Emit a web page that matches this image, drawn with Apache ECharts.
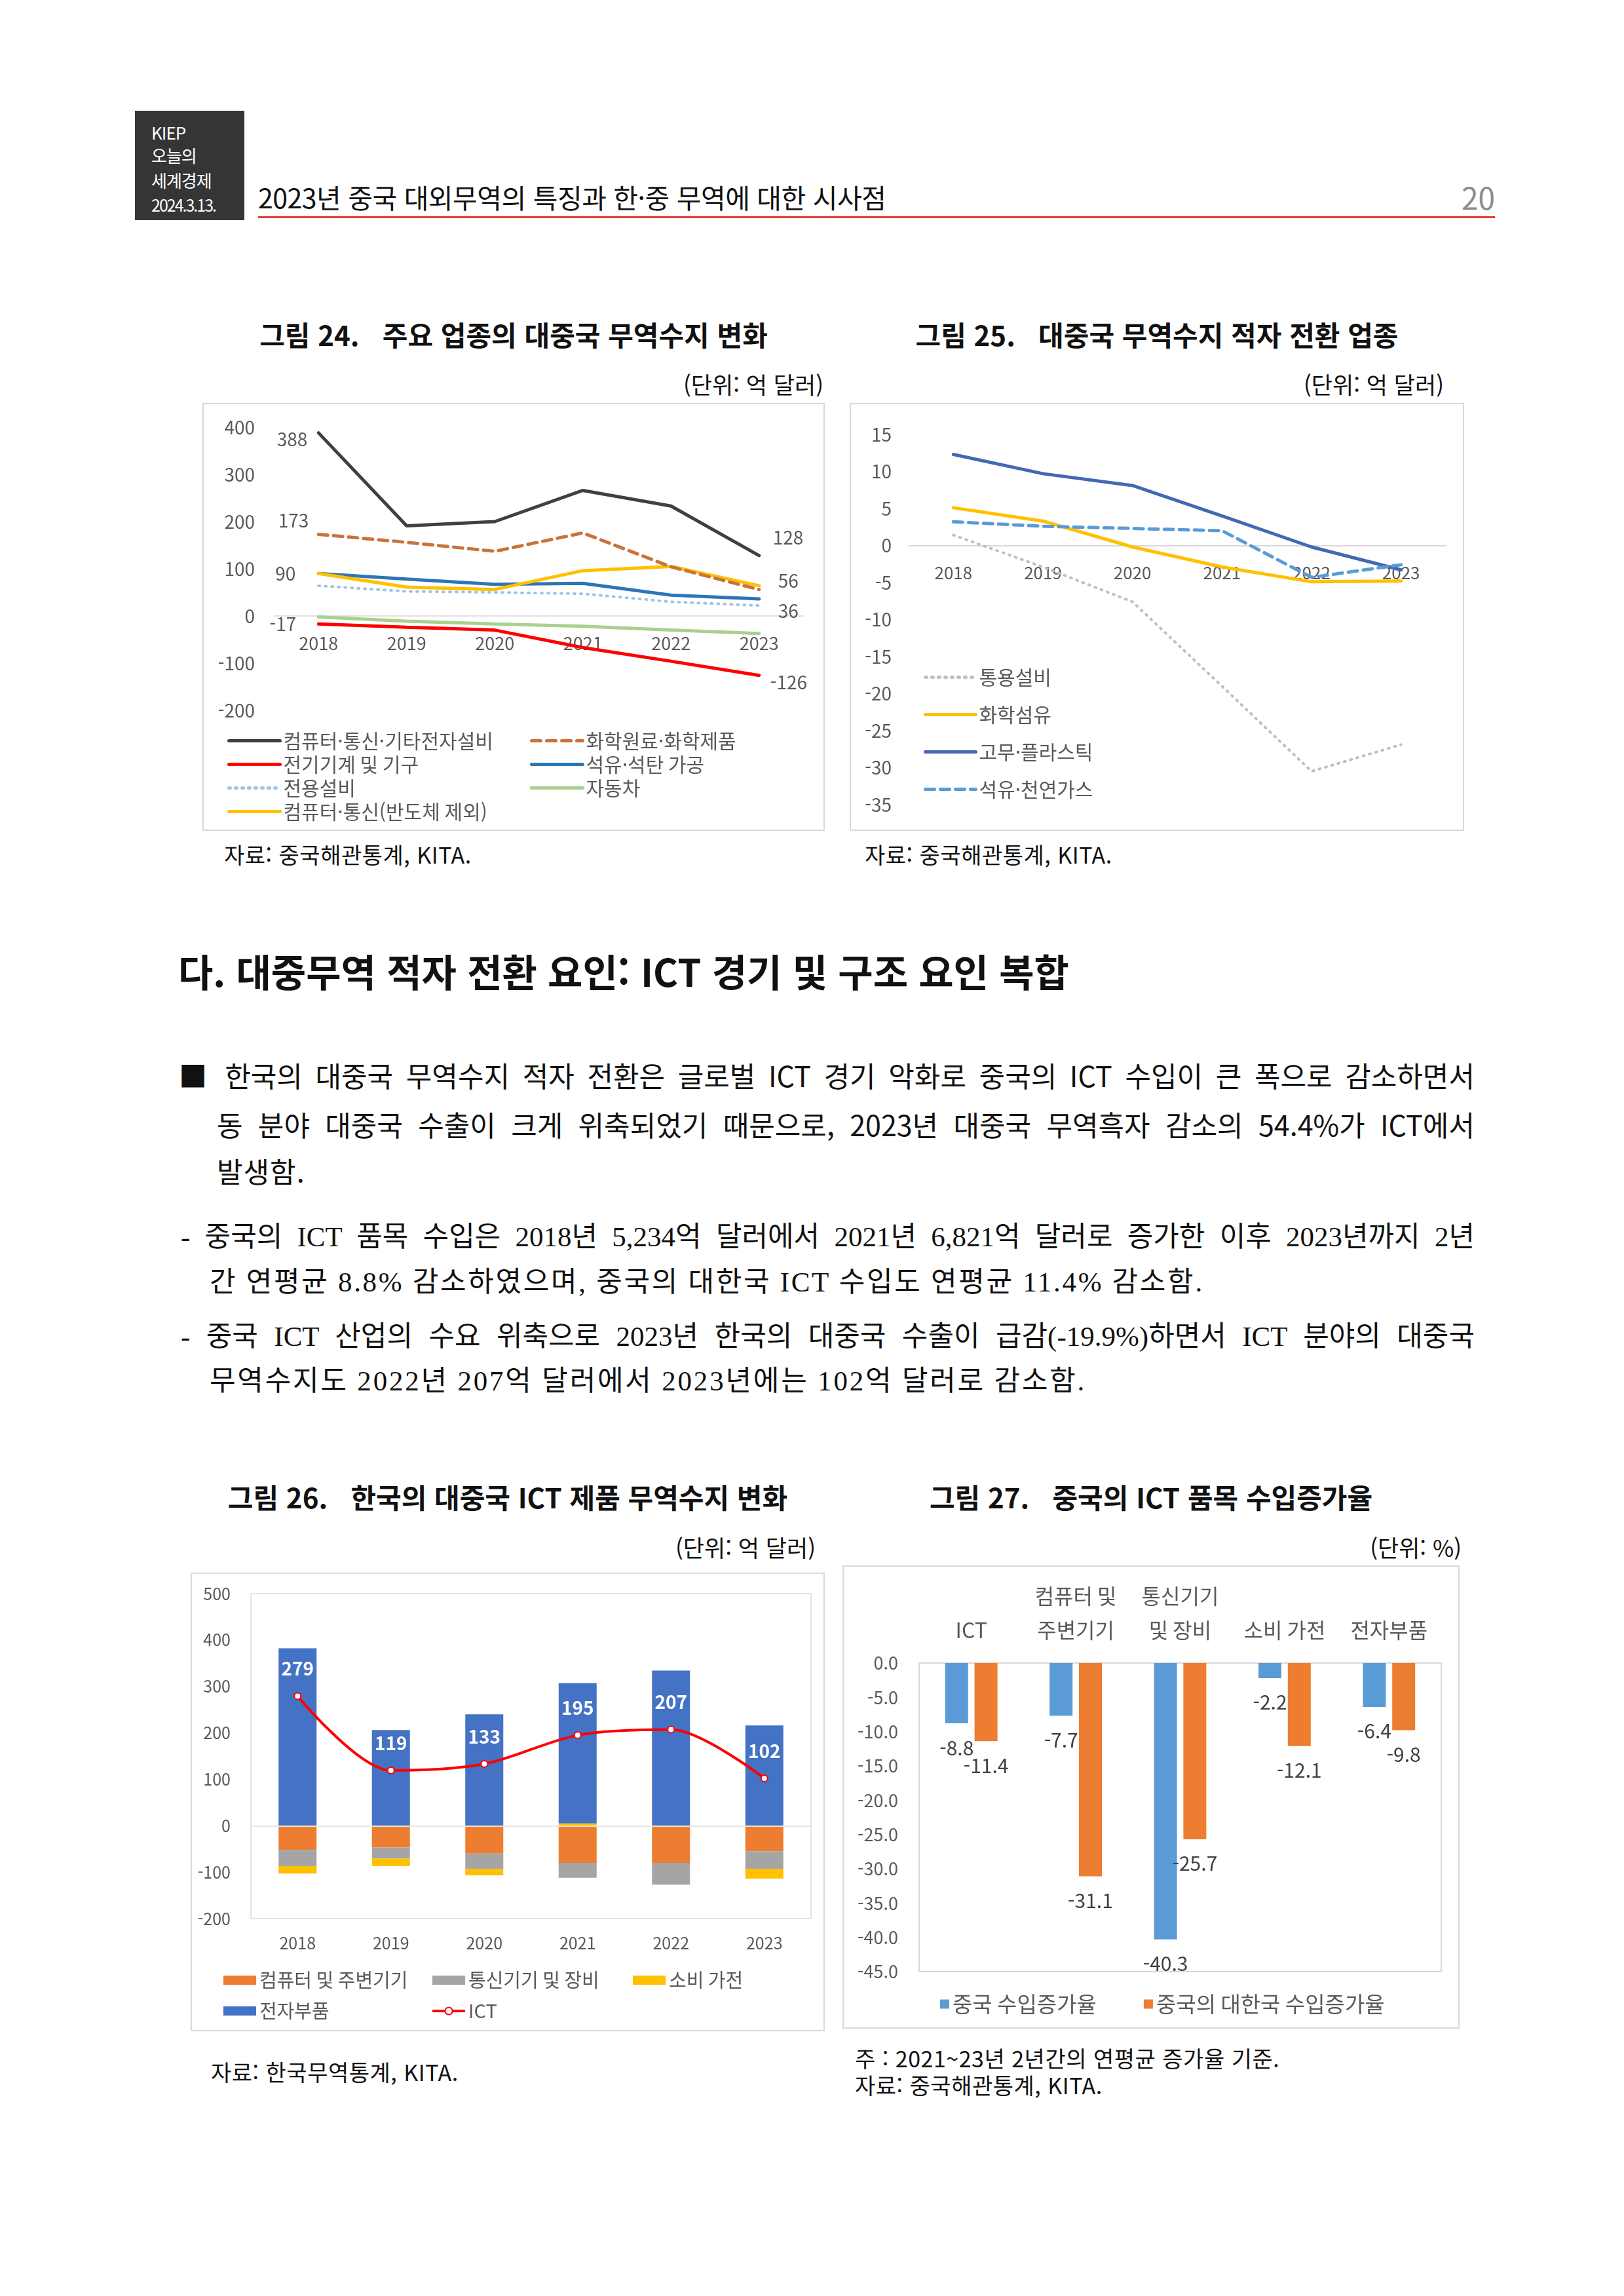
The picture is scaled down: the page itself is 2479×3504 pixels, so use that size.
<!DOCTYPE html>
<html lang="ko">
<head>
<meta charset="utf-8">
<title>KIEP 오늘의 세계경제</title>
<script src="https://cdn.jsdelivr.net/npm/echarts@6.0.0/dist/echarts.min.js"></script>
<style>
html,body{margin:0;padding:0;background:#fff;}
body{position:relative;width:2479px;height:3504px;overflow:hidden;font-family:"Noto Sans CJK KR","Noto Sans",sans-serif;color:#111;}
.t{position:absolute;white-space:nowrap;}
.j{position:absolute;white-space:normal;text-align:justify;text-align-last:justify;overflow:hidden;}
.box{position:absolute;border:2px solid #d9d9d9;box-sizing:border-box;pointer-events:none;}
.chart{position:absolute;}
.serif{font-family:"Liberation Serif","Noto Sans CJK KR",serif;}
.ttl{position:absolute;text-align:center;font-size:42px;line-height:56px;font-weight:700;white-space:pre;}
.unit{position:absolute;font-size:35px;line-height:44px;white-space:nowrap;text-align:right;}
.src{position:absolute;font-size:34px;line-height:42px;white-space:nowrap;letter-spacing:0.5px;}
</style>
</head>
<body>
<!-- header -->
<div class="t" style="left:206px;top:169px;width:167px;height:167px;background:#353535;"></div>
<div class="t" style="left:231px;top:186px;font-size:26px;line-height:32px;color:#fff;letter-spacing:-1px;">KIEP</div>
<div class="t" style="left:231px;top:221px;font-size:26px;line-height:32px;color:#fff;letter-spacing:-1px;">오늘의</div>
<div class="t" style="left:231px;top:259px;font-size:26px;line-height:32px;color:#fff;letter-spacing:-1px;">세계경제</div>
<div class="t" style="left:231px;top:296px;font-size:25px;line-height:32px;color:#fff;letter-spacing:-2px;">2024.3.13.</div>
<div class="t" style="left:394px;top:273px;font-size:41px;line-height:54px;color:#111;letter-spacing:-0.5px;">2023년 중국 대외무역의 특징과 한·중 무역에 대한 시사점</div>
<div class="t" style="right:197px;top:272px;font-size:46px;line-height:56px;color:#8c8c8c;">20</div>
<div class="t" style="left:394px;top:330px;width:1888px;height:3px;background:#e53935;"></div>

<!-- figure 24 / 25 titles -->
<div class="ttl" style="left:309px;width:950px;top:482px;">그림 24.   주요 업종의 대중국 무역수지 변화</div>
<div class="ttl" style="left:1297px;width:938px;top:482px;">그림 25.   대중국 무역수지 적자 전환 업종</div>
<div class="unit" style="right:1222px;top:564px;">(단위:  억  달러)</div>
<div class="unit" style="right:275px;top:564px;">(단위:  억  달러)</div>

<div id="c24" class="chart" style="left:309px;top:615px;width:950px;height:653px;"></div>
<div class="box" style="left:309px;top:615px;width:950px;height:653px;"></div>
<div id="c25" class="chart" style="left:1297px;top:615px;width:938px;height:653px;"></div>
<div class="box" style="left:1297px;top:615px;width:938px;height:653px;"></div>

<div class="src" style="left:342px;top:1283px;">자료:  중국해관통계,  KITA.</div>
<div class="src" style="left:1320px;top:1283px;">자료:  중국해관통계,  KITA.</div>

<!-- section text -->
<div class="t" style="left:272px;top:1443px;font-size:58px;line-height:76px;font-weight:700;">다. 대중무역 적자 전환 요인: ICT 경기 및 구조 요인 복합</div>

<div class="j" style="left:273px;top:1610px;width:1978px;height:60px;font-size:43px;line-height:60px;">■ 한국의 대중국 무역수지 적자 전환은 글로벌 ICT 경기 악화로 중국의 ICT 수입이 큰 폭으로 감소하면서</div>
<div class="j" style="left:331px;top:1685px;width:1920px;height:60px;font-size:43px;line-height:60px;">동 분야 대중국 수출이 크게 위축되었기 때문으로, 2023년 대중국 무역흑자 감소의 54.4%가 ICT에서</div>
<div class="t" style="left:331px;top:1756px;font-size:43px;line-height:60px;letter-spacing:1px;">발생함.</div>

<div class="j serif" style="left:276px;top:1858px;width:1975px;height:60px;font-size:43px;line-height:60px;">- 중국의 ICT 품목 수입은 2018년 5,234억 달러에서 2021년 6,821억 달러로 증가한 이후 2023년까지 2년</div>
<div class="t serif" style="left:320px;top:1927px;font-size:43px;line-height:60px;letter-spacing:2.7px;">간 연평균 8.8% 감소하였으며, 중국의 대한국 ICT 수입도 연평균 11.4% 감소함.</div>
<div class="j serif" style="left:276px;top:2010px;width:1975px;height:60px;font-size:43px;line-height:60px;">- 중국 ICT 산업의 수요 위축으로 2023년 한국의 대중국 수출이 급감(-19.9%)하면서 ICT 분야의 대중국</div>
<div class="t serif" style="left:320px;top:2078px;font-size:43px;line-height:60px;letter-spacing:2.8px;">무역수지도 2022년 207억 달러에서 2023년에는 102억 달러로 감소함.</div>

<!-- figure 26 / 27 titles -->
<div class="ttl" style="left:291px;width:968px;top:2256px;">그림 26.   한국의 대중국 ICT 제품 무역수지 변화</div>
<div class="ttl" style="left:1286px;width:942px;top:2256px;">그림 27.   중국의 ICT 품목 수입증가율</div>
<div class="unit" style="right:1234px;top:2339px;">(단위:  억  달러)</div>
<div class="unit" style="right:248px;top:2339px;">(단위:  %)</div>

<div id="c26" class="chart" style="left:291px;top:2400px;width:968px;height:700px;"></div>
<div class="box" style="left:291px;top:2400px;width:968px;height:700px;"></div>
<div id="c27" class="chart" style="left:1286px;top:2389px;width:942px;height:707px;"></div>
<div class="box" style="left:1286px;top:2389px;width:942px;height:707px;"></div>

<div class="src" style="left:322px;top:3141px;">자료:  한국무역통계,  KITA.</div>
<div class="src" style="left:1305px;top:3120px;">주 :  2021~23년  2년간의  연평균  증가율  기준.</div>
<div class="src" style="left:1305px;top:3161px;">자료:  중국해관통계,  KITA.</div>

<script>
// ---------- data ----------
const years = ['2018', '2019', '2020', '2021', '2022', '2023'];

// Figure 24 (억 달러)
const f24Names = ['컴퓨터·통신·기타전자설비', '화학원료·화학제품', '전기기계 및 기구', '석유·석탄 가공', '전용설비', '자동차', '컴퓨터·통신(반도체 제외)'];
const f24ElecEquip = [388, 191, 200, 266, 233, 128];
const f24Chem = [173, 156, 137, 176, 104, 56];
const f24ElecMach = [-17, -24, -30, -67, -96, -126];
const f24Petro = [90, 78, 67, 69, 44, 36];
const f24Special = [64, 52, 50, 47, 30, 22];
const f24Auto = [-2, -11, -17, -22, -30, -37];
const f24CompComm = [90, 61, 56, 96, 105, 64];
const f24Range = [-200, 400];

// Figure 25 (억 달러)
const f25Names = ['통용설비', '화학섬유', '고무·플라스틱', '석유·천연가스'];
const f25General = [1.4, -2.9, -7.6, -19.0, -30.5, -26.9];
const f25Fiber = [5.1, 3.3, -0.2, -2.9, -4.9, -4.8];
const f25Rubber = [12.3, 9.7, 8.1, 4.0, -0.2, -3.3];
const f25Oil = [3.2, 2.6, 2.3, 2.0, -4.3, -2.6];
const f25Range = [-35, 15];

// Figure 26 (억 달러)
const f26Names = ['컴퓨터 및 주변기기', '통신기기 및 장비', '소비 가전', '전자부품', 'ICT'];
const f26Computer = [-52, -47, -60, -80, -80, -55];
const f26Comm = [-35, -24, -33, -32, -47, -38];
const f26Consumer = [-16, -16, -14, 5, 0, -21];
const f26Parts = [382, 206, 240, 302, 334, 216];
const f26ICT = [279, 119, 133, 195, 207, 102];

// Figure 27 (%)
const f27Cats = ['ICT', '컴퓨터 및\n주변기기', '통신기기\n및 장비', '소비 가전', '전자부품'];
const f27Names = ['중국 수입증가율', '중국의 대한국 수입증가율'];
const f27China = [-8.8, -7.7, -40.3, -2.2, -6.4];
const f27FromKorea = [-11.4, -31.1, -25.7, -12.1, -9.8];

// ---------- helpers ----------
const FONT = '"Noto Sans CJK KR", "Noto Sans", sans-serif';
const GRAY = '#595959';
const HIDE_SYMBOL = { color: 'rgba(0,0,0,0)', borderColor: 'rgba(0,0,0,0)', borderWidth: 0 };

function withLabels(vals, cfg) {
  return vals.map(function (v, i) {
    if (!cfg[i]) return v;
    return {
      value: v,
      symbol: 'circle',
      symbolSize: 2,
      label: Object.assign({ show: true, color: GRAY, fontSize: 28, formatter: '{c}' }, cfg[i])
    };
  });
}
function lineSeries(name, data, color, width, type) {
  return {
    name: name, type: 'line', data: data, symbol: 'none', smooth: false,
    lineStyle: { color: color, width: width, type: type || 'solid', cap: 'round' },
    itemStyle: { color: color }, emphasis: { disabled: true }, z: 3
  };
}
// offset (px) that moves a bottom category axis up onto the value 0
function zeroOffset(gridHeight, range) {
  return -gridHeight * (0 - range[0]) / (range[1] - range[0]);
}
const gridBase = { containLabel: false, outerBoundsMode: 'none' };

// ---------- Figure 24 ----------
const g24 = { left: 110, right: 33, top: 37, bottom: 184 };
const h24 = 653 - g24.top - g24.bottom;
const leg24 = { orient: 'vertical', top: 500, padding: 0, itemWidth: 78, itemHeight: 14, itemGap: 5,
  selectedMode: false, itemStyle: HIDE_SYMBOL, lineStyle: { width: 5 },
  textStyle: { color: GRAY, fontSize: 30, lineHeight: 31 } };
const c24 = echarts.init(document.getElementById('c24'));
c24.setOption({
  animation: false,
  textStyle: { fontFamily: FONT },
  grid: Object.assign({}, g24, gridBase),
  xAxis: {
    type: 'category', data: years, boundaryGap: true, offset: zeroOffset(h24, f24Range),
    axisLine: { show: true, onZero: false, lineStyle: { color: '#e0e0e0', width: 2 } },
    axisTick: { show: false },
    axisLabel: { color: GRAY, fontSize: 27, margin: 28, interval: 0 }
  },
  yAxis: {
    type: 'value', min: f24Range[0], max: f24Range[1], interval: 100,
    axisLine: { show: false }, axisTick: { show: false }, splitLine: { show: false },
    axisLabel: { color: GRAY, fontSize: 28, margin: 30 }
  },
  legend: [
    Object.assign({ data: [f24Names[0], f24Names[2], f24Names[4], f24Names[6]], left: 38 }, leg24),
    Object.assign({ data: [f24Names[1], f24Names[3], f24Names[5]], left: 500 }, leg24)
  ],
  series: [
    lineSeries(f24Names[4], f24Special, '#9dc3e6', 4, [2, 8]),
    lineSeries(f24Names[5], f24Auto, '#a9d18e', 5),
    lineSeries(f24Names[3], withLabels(f24Petro, { 5: { position: 'right', distance: 28, offset: [0, 18] } }), '#2e75b6', 5),
    lineSeries(f24Names[6], withLabels(f24CompComm, { 0: { position: 'left', distance: 34 } }), '#ffc000', 5),
    lineSeries(f24Names[1], withLabels(f24Chem, { 0: { position: 'left', distance: 14, offset: [0, -21] }, 5: { position: 'right', distance: 28, offset: [0, -13] } }), '#c9733a', 5, [14, 9]),
    lineSeries(f24Names[2], withLabels(f24ElecMach, { 0: { position: 'left', distance: 33 }, 5: { position: 'right', distance: 16, offset: [0, 11] } }), '#ff0000', 5),
    lineSeries(f24Names[0], withLabels(f24ElecEquip, { 0: { position: 'left', distance: 16, offset: [0, 10] }, 5: { position: 'right', distance: 20, offset: [0, -27] } }), '#404040', 5)
  ]
});

// ---------- Figure 25 ----------
const g25 = { left: 90, right: 28, top: 48, bottom: 40 };
const h25 = 653 - g25.top - g25.bottom;
const c25 = echarts.init(document.getElementById('c25'));
c25.setOption({
  animation: false,
  textStyle: { fontFamily: FONT },
  grid: Object.assign({}, g25, gridBase),
  xAxis: {
    type: 'category', data: years, boundaryGap: true, offset: zeroOffset(h25, f25Range),
    axisLine: { show: true, onZero: false, lineStyle: { color: '#d9d9d9', width: 2 } },
    axisTick: { show: false },
    axisLabel: { color: GRAY, fontSize: 26, margin: 29, interval: 0 }
  },
  yAxis: {
    type: 'value', min: f25Range[0], max: f25Range[1], interval: 5,
    axisLine: { show: false }, axisTick: { show: false }, splitLine: { show: false },
    axisLabel: { color: GRAY, fontSize: 28, margin: 26 }
  },
  legend: {
    data: f25Names, orient: 'vertical', left: 113, top: 403, padding: 0,
    itemWidth: 77, itemHeight: 14, itemGap: 26, selectedMode: false, itemStyle: HIDE_SYMBOL,
    lineStyle: { width: 5 },
    textStyle: { color: GRAY, fontSize: 30, lineHeight: 31 }
  },
  series: [
    lineSeries(f25Names[0], f25General, '#bfbfbf', 4, [2, 8]),
    lineSeries(f25Names[1], f25Fiber, '#ffc000', 5),
    lineSeries(f25Names[2], f25Rubber, '#4268b3', 5),
    lineSeries(f25Names[3], f25Oil, '#5b9bd5', 5, [14, 9])
  ]
});

// ---------- Figure 26 ----------
function barSeries(name, data, color) {
  return { name: name, type: 'bar', stack: 'total', data: data, barWidth: 58,
    itemStyle: { color: color }, emphasis: { disabled: true } };
}
const c26 = echarts.init(document.getElementById('c26'));
const f26PartsSeries = barSeries(f26Names[3], f26Parts, '#4472c4');
f26PartsSeries.markLine = { silent: true, symbol: 'none', label: { show: false },
  lineStyle: { color: '#ece6d6', width: 2, type: 'solid' }, data: [{ yAxis: 0 }] };
const leg26 = { orient: 'vertical', top: 607, padding: 0, itemWidth: 50, itemHeight: 14, itemGap: 17,
  selectedMode: false, lineStyle: { width: 4 }, textStyle: { color: GRAY, fontSize: 29, lineHeight: 30 } };
c26.setOption({
  animation: false,
  textStyle: { fontFamily: FONT },
  grid: Object.assign({ left: 92, right: 21, top: 32, bottom: 172, show: true, borderColor: '#e3e3e3', borderWidth: 2 }, gridBase),
  xAxis: {
    type: 'category', data: years, boundaryGap: true,
    axisLine: { show: false, onZero: false }, axisTick: { show: false },
    axisLabel: { color: GRAY, fontSize: 25, margin: 25, interval: 0 }
  },
  yAxis: {
    type: 'value', min: -200, max: 500, interval: 100,
    axisLine: { show: false }, axisTick: { show: false }, splitLine: { show: false },
    axisLabel: { color: GRAY, fontSize: 25, margin: 31 }
  },
  legend: [
    Object.assign({ data: [{ name: f26Names[0], icon: 'rect' }, { name: f26Names[3], icon: 'rect' }], left: 50 }, leg26),
    Object.assign({ data: [{ name: f26Names[1], icon: 'rect' }, { name: f26Names[4] }], left: 367 }, leg26),
    Object.assign({ data: [{ name: f26Names[2], icon: 'rect' }], left: 675 }, leg26)
  ],
  series: [
    barSeries(f26Names[0], f26Computer, '#ed7d31'),
    barSeries(f26Names[1], f26Comm, '#a5a5a5'),
    barSeries(f26Names[2], f26Consumer, '#ffc000'),
    f26PartsSeries,
    { name: f26Names[4], type: 'line', data: f26ICT, smooth: 0.3, z: 5,
      symbol: 'circle', symbolSize: 10,
      lineStyle: { color: '#ff0000', width: 4 },
      itemStyle: { color: '#ffffff', borderColor: '#ff0000', borderWidth: 2 },
      label: { show: true, position: 'top', distance: 22, color: '#ffffff', fontSize: 28, fontWeight: 'bold', formatter: '{c}' },
      emphasis: { disabled: true } }
  ]
});

// ---------- Figure 27 ----------
const c27 = echarts.init(document.getElementById('c27'));
const f27Label = { show: true, position: 'bottom', distance: 22, color: '#404040', fontSize: 30, formatter: '{c}' };
c27.setOption({
  animation: false,
  textStyle: { fontFamily: FONT },
  grid: Object.assign({ left: 117, right: 28, top: 149, bottom: 87, show: true, borderColor: '#d9d9d9', borderWidth: 2 }, gridBase),
  xAxis: {
    type: 'category', data: f27Cats, position: 'top', boundaryGap: true,
    axisLine: { show: false, onZero: false }, axisTick: { show: false },
    axisLabel: { color: GRAY, fontSize: 32, lineHeight: 52, margin: 24, interval: 0 }
  },
  yAxis: {
    type: 'value', min: -45, max: 0, interval: 5,
    axisLine: { show: false }, axisTick: { show: false }, splitLine: { show: false },
    axisLabel: { color: GRAY, fontSize: 27, margin: 32, formatter: function (v) { return v.toFixed(1); } }
  },
  legend: {
    data: f27Names, left: 149, top: 653, padding: 0, icon: 'rect',
    itemWidth: 14, itemHeight: 14, itemGap: 72, selectedMode: false,
    textStyle: { color: GRAY, fontSize: 33, lineHeight: 33 }
  },
  series: [
    { name: f27Names[0], type: 'bar', data: f27China, barWidth: 35, barGap: '28%',
      itemStyle: { color: '#5b9bd5' }, label: f27Label, emphasis: { disabled: true } },
    { name: f27Names[1], type: 'bar', data: f27FromKorea, barWidth: 35, barGap: '28%',
      itemStyle: { color: '#ed7d31' }, label: f27Label, emphasis: { disabled: true } }
  ]
});
</script>
</body>
</html>
